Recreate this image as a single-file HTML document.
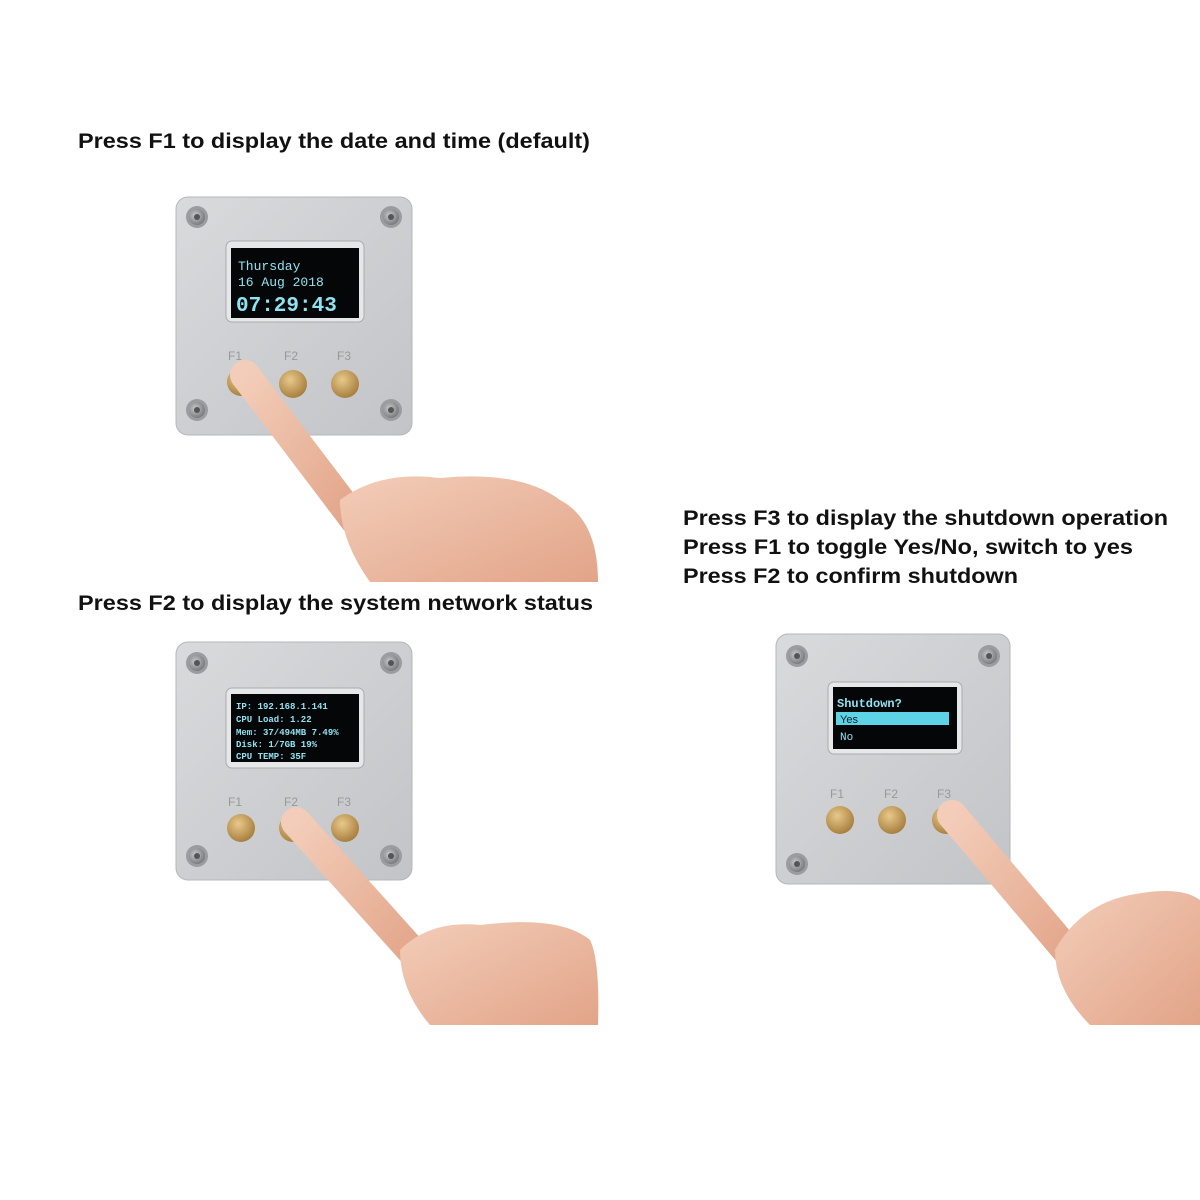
<!DOCTYPE html>
<html><head><meta charset="utf-8"><style>
html,body{margin:0;padding:0;background:#fff;}
svg{display:block}
text{font-family:"Liberation Sans",sans-serif;}
.t{font-weight:bold;font-size:21px;fill:#111}
.m{font-family:"Liberation Mono",monospace;fill:#8fe3f0}
</style></head><body>
<svg width="1200" height="1200" viewBox="0 0 1200 1200">
<defs>
<linearGradient id="al" x1="0" y1="0" x2="1" y2="1"><stop offset="0" stop-color="#d9dadc"/><stop offset="1" stop-color="#c2c4c7"/></linearGradient>
<radialGradient id="gold" cx="0.4" cy="0.35" r="0.7"><stop offset="0" stop-color="#e8c98a"/><stop offset="1" stop-color="#a47a3a"/></radialGradient>
<radialGradient id="scr" cx="0.4" cy="0.4" r="0.7"><stop offset="0" stop-color="#c8c9cb"/><stop offset="1" stop-color="#6e7073"/></radialGradient>
<linearGradient id="skin" x1="0" y1="0" x2="1" y2="1"><stop offset="0" stop-color="#f3cdb9"/><stop offset="1" stop-color="#e2a488"/></linearGradient>
<g id="screw"><circle r="11" fill="#9a9c9f"/><circle r="8" fill="url(#scr)"/><circle r="3" fill="#555"/></g>
</defs>

<text class="t" x="78" y="148" textLength="512" lengthAdjust="spacingAndGlyphs">Press F1 to display the date and time (default)</text>
<text class="t" x="78" y="610" textLength="515" lengthAdjust="spacingAndGlyphs">Press F2 to display the system network status</text>
<text class="t" x="683" y="525" textLength="485" lengthAdjust="spacingAndGlyphs">Press F3 to display the shutdown operation</text>
<text class="t" x="683" y="554" textLength="450" lengthAdjust="spacingAndGlyphs">Press F1 to toggle Yes/No, switch to yes</text>
<text class="t" x="683" y="583" textLength="335" lengthAdjust="spacingAndGlyphs">Press F2 to confirm shutdown</text>

<!-- Device 1 -->
<rect x="176" y="197" width="236" height="238" rx="12" fill="url(#al)" stroke="#b5b7ba"/>
<rect x="226" y="241" width="138" height="81" rx="6" fill="#e6e7e8" stroke="#a9abae"/>
<rect x="231" y="248" width="128" height="70" fill="#050608"/>
<text class="m" x="238" y="270" font-size="13">Thursday</text>
<text class="m" x="238" y="286" font-size="13">16 Aug 2018</text>
<text class="m" x="236" y="311" font-size="21" font-weight="bold">07:29:43</text>
<text x="228" y="360" font-size="12" fill="#999">F1</text><text x="284" y="360" font-size="12" fill="#999">F2</text><text x="337" y="360" font-size="12" fill="#999">F3</text>
<circle cx="241" cy="382" r="14" fill="url(#gold)"/><circle cx="293" cy="384" r="14" fill="url(#gold)"/><circle cx="345" cy="384" r="14" fill="url(#gold)"/>
<use href="#screw" x="197" y="217"/><use href="#screw" x="391" y="217"/><use href="#screw" x="197" y="410"/><use href="#screw" x="391" y="410"/>
<path d="M245 375 L355 520" stroke="url(#skin)" stroke-width="30" stroke-linecap="round"/>
<path d="M340 500 Q380 470 440 478 Q520 470 560 500 Q598 520 598 582 L370 582 Q340 540 340 500Z" fill="url(#skin)"/>

<!-- Device 2 -->
<rect x="176" y="642" width="236" height="238" rx="12" fill="url(#al)" stroke="#b5b7ba"/>
<rect x="226" y="688" width="138" height="80" rx="6" fill="#e6e7e8" stroke="#a9abae"/>
<rect x="231" y="694" width="128" height="68" fill="#050608"/>
<text class="m" x="236" y="709" font-size="9" font-weight="bold">IP: 192.168.1.141</text>
<text class="m" x="236" y="722" font-size="9" font-weight="bold">CPU Load: 1.22</text>
<text class="m" x="236" y="735" font-size="9" font-weight="bold">Mem: 37/494MB 7.49%</text>
<text class="m" x="236" y="747" font-size="9" font-weight="bold">Disk: 1/7GB 19%</text>
<text class="m" x="236" y="759" font-size="9" font-weight="bold">CPU TEMP: 35F</text>
<text x="228" y="806" font-size="12" fill="#999">F1</text><text x="284" y="806" font-size="12" fill="#999">F2</text><text x="337" y="806" font-size="12" fill="#999">F3</text>
<circle cx="241" cy="828" r="14" fill="url(#gold)"/><circle cx="293" cy="828" r="14" fill="url(#gold)"/><circle cx="345" cy="828" r="14" fill="url(#gold)"/>
<use href="#screw" x="197" y="663"/><use href="#screw" x="391" y="663"/><use href="#screw" x="197" y="856"/><use href="#screw" x="391" y="856"/>
<path d="M296 822 L420 960" stroke="url(#skin)" stroke-width="30" stroke-linecap="round"/>
<path d="M400 950 Q430 920 480 925 Q560 915 590 940 Q600 960 598 1025 L430 1025 Q400 990 400 950Z" fill="url(#skin)"/>

<!-- Device 3 -->
<rect x="776" y="634" width="234" height="250" rx="12" fill="url(#al)" stroke="#b5b7ba"/>
<rect x="828" y="682" width="134" height="72" rx="6" fill="#e6e7e8" stroke="#a9abae"/>
<rect x="833" y="687" width="124" height="62" fill="#050608"/>
<text class="m" x="837" y="707" font-size="12" font-weight="bold">Shutdown?</text>
<rect x="836" y="712" width="113" height="13" fill="#5fd3e6"/>
<text x="840" y="723" font-size="11" fill="#05202a" font-family="Liberation Mono,monospace">Yes</text>
<text class="m" x="840" y="740" font-size="11">No</text>
<text x="830" y="798" font-size="12" fill="#999">F1</text><text x="884" y="798" font-size="12" fill="#999">F2</text><text x="937" y="798" font-size="12" fill="#999">F3</text>
<circle cx="840" cy="820" r="14" fill="url(#gold)"/><circle cx="892" cy="820" r="14" fill="url(#gold)"/><circle cx="946" cy="820" r="14" fill="url(#gold)"/>
<use href="#screw" x="797" y="656"/><use href="#screw" x="989" y="656"/><use href="#screw" x="797" y="864"/><use href="#screw" x="989" y="864"/>
<path d="M952 815 L1075 960" stroke="url(#skin)" stroke-width="30" stroke-linecap="round"/>
<path d="M1055 950 Q1080 905 1130 895 Q1180 885 1200 900 L1200 1025 L1090 1025 Q1055 990 1055 950Z" fill="url(#skin)"/>
</svg>
</body></html>
